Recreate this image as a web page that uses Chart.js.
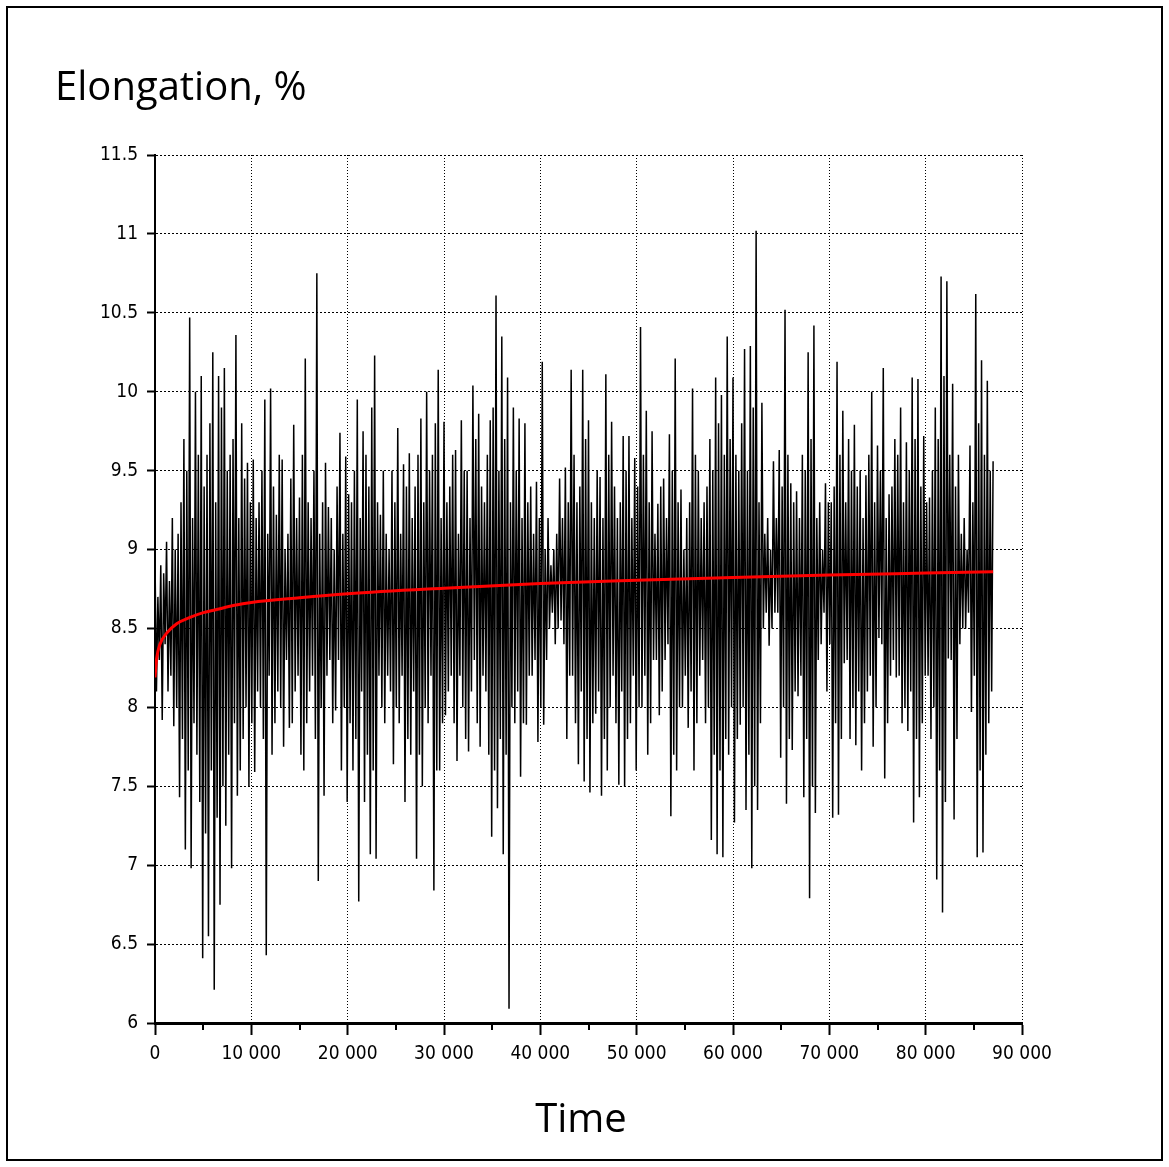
<!DOCTYPE html>
<html>
<head>
<meta charset="utf-8">
<title>Elongation, %</title>
<script src="https://cdn.jsdelivr.net/npm/chart.js@4.4.1/dist/chart.umd.min.js"></script>
<style>
    html, body { margin: 0; padding: 0; background: #fff; }
    canvas { display: block; }
</style>
</head>
<body>
<canvas id="elongationChart" width="1169" height="1167"></canvas>
<script>
/* Elongation vs time chart */

// Axis ticks
const xTickValues = [0, 10000, 20000, 30000, 40000, 50000, 60000, 70000, 80000, 90000];
const xTickLabels = ['0', '10 000', '20 000', '30 000', '40 000', '50 000', '60 000', '70 000', '80 000', '90 000'];
const xMinorTicks = [5000, 15000, 25000, 35000, 45000, 55000, 65000, 75000, 85000];
const yTickValues = [6, 6.5, 7, 7.5, 8, 8.5, 9, 9.5, 10, 10.5, 11, 11.5];
const yTickLabels = ['6', '6.5', '7', '7.5', '8', '8.5', '9', '9.5', '10', '10.5', '11', '11.5'];

// Measured elongation, read off the plot. One cycle every 600 time units:
// big peak, big trough, small peak, small trough (150 units apart)
const sampleStep = 150;
const highs = [
    8.95, 8.9, 9.05, 9.2, 9.1, 9.7, 10.47, 10.0, 10.1, 9.6, 10.25, 10.1, 10.15, 9.6, 10.36, 9.8, 9.55,
    9.57, 9.3, 9.95, 10.02, 9.22, 9.57, 9.1, 9.79, 9.33, 10.21, 9.2, 10.75, 9.3, 9.27, 9.0, 9.74, 9.59,
    9.3, 9.95, 9.75, 9.4, 10.23, 9.22, 9.1, 9.5, 9.77, 9.54, 9.61, 9.4, 9.83, 10.0, 9.6, 10.14,
    9.81, 9.4, 9.63, 9.82, 9.5, 10.04, 9.86, 9.3, 9.82, 10.61, 10.35, 10.09, 9.9, 9.83, 9.8, 9.4, 9.43,
    10.19, 9.2, 9.0, 9.45, 9.52, 10.14, 9.3, 10.14, 9.82, 9.2, 9.46, 10.11, 9.81, 9.2, 9.72, 9.72, 9.58,
    10.41, 9.88, 9.75, 9.29, 9.45, 9.73, 10.21, 9.38, 9.2, 10.02, 9.5, 9.3, 9.7, 10.09, 9.98, 10.35,
    10.09, 9.5, 10.27, 10.29, 11.02, 9.93, 9.2, 9.56, 9.63, 10.52, 9.42, 9.37, 9.6, 10.25, 10.42, 9.3, 9.42,
    9.3, 10.19, 9.88, 9.7, 9.79, 9.5, 9.47, 10.0, 9.66, 10.15, 9.35, 9.7, 9.9, 9.68, 10.09, 10.08, 9.72,
    9.33, 9.9, 10.73, 10.7, 10.05, 9.6, 9.2, 9.66, 10.62, 10.2, 10.07, 9.56
];
const lows = [
    8.1, 7.92, 8.1, 7.88, 7.43, 7.1, 6.98, 7.7, 6.41, 6.55, 6.21, 6.75, 7.25, 6.98, 7.44, 7.8, 7.5,
    7.59, 8.0, 6.43, 7.7, 8.1, 7.75, 7.87, 8.1, 7.7, 7.9, 8.2, 6.9, 7.44, 8.3, 7.98, 7.6, 7.4,
    7.6, 6.77, 7.4, 7.07, 7.04, 8.0, 8.2, 7.64, 7.9, 7.4, 7.7, 7.04, 7.5, 7.9, 6.84, 7.6,
    7.95, 8.2, 7.66, 8.0, 7.72, 8.3, 7.75, 8.1, 7.18, 7.36, 7.07, 6.09, 7.9, 7.56, 7.89, 8.2, 7.78,
    7.89, 8.5, 8.4, 8.55, 7.8, 8.2, 7.64, 7.53, 7.46, 7.96, 7.44, 7.6, 8.2, 7.51, 7.5, 7.9, 7.6,
    8.0, 7.7, 8.3, 7.95, 8.3, 7.31, 7.6, 8.0, 7.87, 7.6, 8.2, 7.9, 7.16, 7.07, 7.05, 7.7,
    7.27, 7.89, 7.35, 6.98, 7.35, 8.5, 8.39, 8.6, 7.68, 7.39, 7.73, 8.07, 7.43, 6.79, 7.33, 8.4, 8.1,
    7.3, 7.32, 8.28, 7.8, 7.76, 7.6, 8.1, 7.75, 8.44, 7.55, 8.2, 8.19, 7.9, 7.85, 7.27, 7.43, 8.2,
    7.8, 6.91, 6.7, 8.31, 7.29, 8.4, 8.5, 7.97, 7.05, 7.08, 7.9
];
const midHighs = [
    8.7, 8.85, 8.8, 9.0, 9.3, 9.5, 9.2, 9.6, 9.4, 9.8, 9.3, 9.9, 9.5, 9.7, 9.2, 9.45, 9.3,
    9.2, 9.5, 9.1, 9.4, 9.6, 9.0, 9.45, 9.2, 9.6, 9.3, 9.5, 9.1, 9.55, 9.2, 9.4, 9.1, 9.35,
    9.5, 9.2, 9.6, 9.9, 9.3, 9.5, 9.0, 9.3, 9.1, 9.4, 9.2, 9.6, 9.3, 9.5, 9.8, 9.2,
    9.3, 9.6, 9.1, 9.5, 9.2, 9.7, 9.4, 9.6, 9.9, 9.5, 9.7, 9.3, 9.5, 9.2, 9.3, 9.1, 9.2,
    9.0, 8.9, 9.1, 9.2, 9.3, 9.6, 9.4, 9.7, 9.3, 9.5, 9.2, 9.6, 9.4, 9.3, 9.5, 9.2, 9.4,
    9.6, 9.3, 9.1, 9.4, 9.2, 9.5, 9.3, 9.0, 9.3, 9.6, 9.2, 9.4, 9.5, 9.8, 9.6, 9.7,
    9.6, 9.8, 9.5, 9.9, 9.3, 9.1, 9.0, 9.2, 9.4, 9.6, 9.3, 9.2, 9.5, 9.7, 9.2, 9.0, 9.3,
    9.4, 9.6, 9.3, 9.5, 9.4, 9.2, 9.6, 9.3, 9.5, 9.2, 9.4, 9.6, 9.3, 9.5, 9.7, 9.4, 9.3,
    9.5, 9.7, 10.1, 9.6, 9.4, 9.1, 9.0, 9.3, 9.8, 9.6, 9.5
];
const midLows = [
    8.3, 8.4, 8.2, 8.0, 7.8, 7.6, 7.9, 7.4, 7.2, 7.6, 7.3, 7.5, 7.7, 7.9, 7.6, 8.0, 7.9,
    8.1, 7.8, 8.2, 7.9, 8.0, 8.3, 7.9, 8.2, 7.6, 8.1, 7.8, 8.0, 8.2, 7.9, 8.3, 8.0, 7.9,
    7.8, 8.1, 7.7, 7.6, 8.2, 7.9, 8.1, 8.0, 8.2, 7.8, 8.1, 7.7, 8.0, 8.2, 7.6, 7.9,
    8.1, 7.9, 8.2, 7.8, 8.1, 7.9, 8.2, 7.7, 7.6, 7.8, 7.7, 8.0, 8.1, 7.9, 8.2, 8.3, 8.0,
    8.3, 8.6, 8.5, 8.4, 8.2, 7.9, 8.1, 7.8, 7.9, 8.1, 7.8, 8.0, 7.9, 8.1, 7.8, 8.2, 8.0,
    8.2, 7.9, 8.3, 8.1, 8.4, 7.7, 8.0, 8.2, 8.1, 7.9, 8.3, 8.0, 7.7, 7.6, 7.8, 8.0,
    7.8, 8.0, 7.7, 7.5, 7.9, 8.6, 8.5, 8.6, 8.0, 7.8, 8.1, 8.2, 7.8, 7.5, 8.3, 8.6, 8.4,
    7.9, 7.8, 8.3, 8.0, 8.1, 7.9, 8.2, 8.0, 8.4, 7.9, 8.3, 8.2, 8.0, 8.1, 7.8, 7.9, 8.2,
    8.0, 7.6, 7.4, 8.3, 7.8, 8.5, 8.6, 8.2, 7.6, 7.7, 8.1
];

// Fitted trend (red curve)
const trendTime = [0, 170, 520, 1210, 2250, 3630, 5020, 6400, 8130, 10000, 15000, 20000, 30000, 40000, 50000, 60000, 70000, 80000, 87000];
const trendValue = [8.19, 8.31, 8.4, 8.47, 8.53, 8.57, 8.6, 8.62, 8.645, 8.665, 8.695, 8.72, 8.755, 8.785, 8.805, 8.823, 8.838, 8.851, 8.86];

const tickFont = "'Liberation Sans Narrow', 'DejaVu Sans Condensed', sans-serif";
const titleFont = "'Open Sans', 'Noto Sans', sans-serif";

// Interleave the four sample kinds into one line
function buildSeries() {
    const points = [];
    for (let i = 0; i < highs.length; i++) {
        const t = 4 * i * sampleStep;
        points.push({ x: t, y: highs[i] });
        if (i < lows.length) {
            points.push({ x: t + sampleStep, y: lows[i] });
            points.push({ x: t + 2 * sampleStep, y: midHighs[i] });
            points.push({ x: t + 3 * sampleStep, y: midLows[i] });
        }
    }
    return points;
}

// Frame, minor ticks and the two captions
const decorations = {
    id: 'decorations',
    afterDraw(chart) {
        const ctx = chart.ctx;
        const xScale = chart.scales.x;
        const bottom = chart.chartArea.bottom;

        ctx.save();
        ctx.strokeStyle = '#000';
        ctx.lineWidth = 2;
        xMinorTicks.forEach(function(v) {
            const px = Math.round(xScale.getPixelForValue(v));
            ctx.beginPath();
            ctx.moveTo(px, bottom);
            ctx.lineTo(px, bottom + 7);
            ctx.stroke();
        });

        ctx.strokeRect(7, 7, 1155, 1153);

        ctx.fillStyle = '#000';
        ctx.font = '40px ' + titleFont;
        ctx.textBaseline = 'alphabetic';
        ctx.textAlign = 'left';
        ctx.fillText('Elongation, %', 55, 100);
        ctx.textAlign = 'center';
        ctx.fillText('Time', 581, 1132);
        ctx.restore();
    }
};

function drawChart() {
    const ctx = document.getElementById('elongationChart');

    new Chart(ctx, {
        type: 'line',
        data: {
            datasets: [
                {
                    label: 'Trend',
                    data: trendTime.map((t, i) => ({ x: t, y: trendValue[i] })),
                    borderColor: '#ff0000',
                    borderWidth: 3,
                    pointRadius: 0,
                    cubicInterpolationMode: 'monotone',
                    order: 0
                },
                {
                    label: 'Elongation',
                    data: buildSeries(),
                    borderColor: '#000',
                    borderWidth: 1.5,
                    pointRadius: 0,
                    tension: 0,
                    order: 1
                }
            ]
        },
        options: {
            responsive: false,
            animation: false,
            events: [],
            layout: { padding: { left: 0, top: 155, right: 147, bottom: 0 } },
            plugins: {
                legend: { display: false },
                tooltip: { enabled: false },
                title: { display: false }
            },
            scales: {
                x: {
                    type: 'linear',
                    min: 0,
                    max: 90000,
                    afterBuildTicks: s => { s.ticks = xTickValues.map(v => ({ value: v })); },
                    afterFit: s => { s.height = 144; },
                    ticks: {
                        callback: (v, i) => xTickLabels[i],
                        autoSkip: false,
                        maxRotation: 0,
                        padding: 8,
                        color: '#000',
                        font: { family: tickFont, size: 19 }
                    },
                    grid: { color: '#000', lineWidth: 1, tickLength: 12, tickWidth: 2, tickColor: '#000' },
                    border: { display: true, color: '#000', width: 3, dash: [1, 2] }
                },
                y: {
                    type: 'linear',
                    min: 6,
                    max: 11.5,
                    afterBuildTicks: s => { s.ticks = yTickValues.map(v => ({ value: v })); },
                    afterFit: s => { s.width = 155; },
                    ticks: {
                        callback: (v, i) => yTickLabels[i],
                        autoSkip: false,
                        padding: 9,
                        color: '#000',
                        font: { family: tickFont, size: 19 }
                    },
                    grid: { color: '#000', lineWidth: 1, tickLength: 8, tickWidth: 2, tickColor: '#000' },
                    border: { display: true, color: '#000', width: 2, dash: [2, 2] }
                }
            }
        },
        plugins: [decorations]
    });
}

// Wait for local fonts, then draw
document.addEventListener('DOMContentLoaded', function() {
    Promise.all([
        document.fonts.load('40px ' + titleFont),
        document.fonts.load('19px ' + tickFont)
    ]).catch(() => null).then(drawChart);
});
</script>
</body>
</html>
